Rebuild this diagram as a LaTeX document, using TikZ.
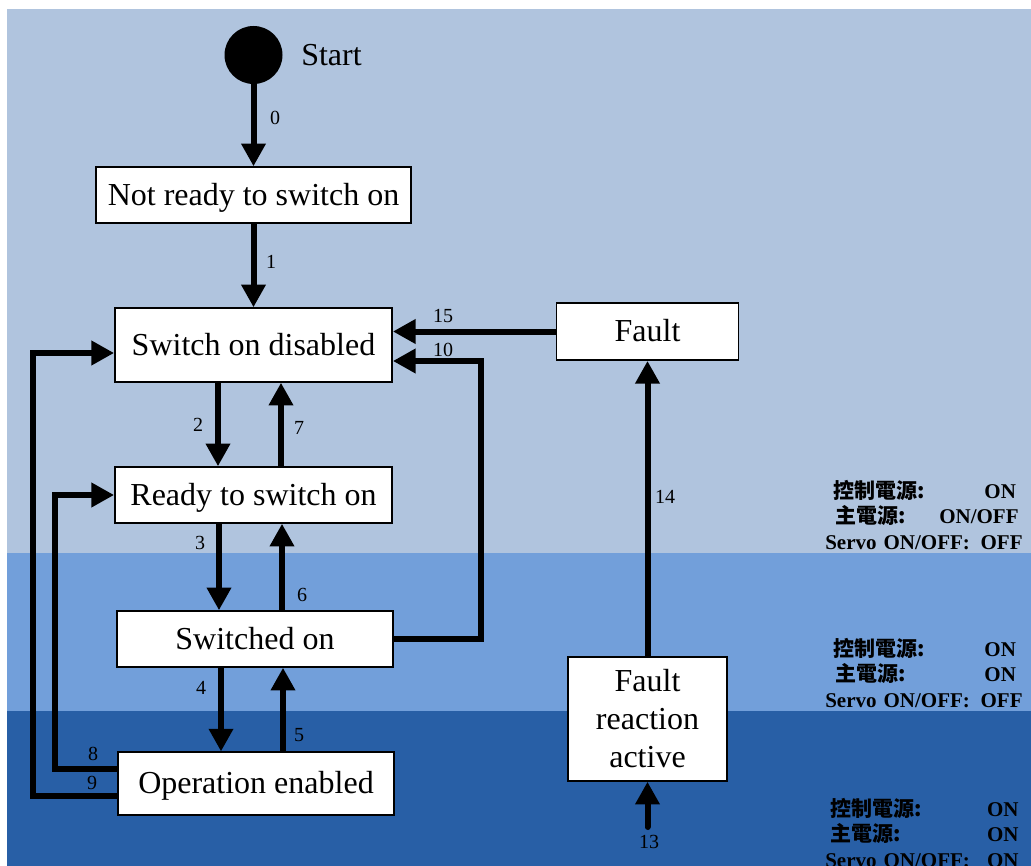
\documentclass[tikz,border=0pt]{standalone}
\usepackage{fontspec}
\setmainfont{Liberation Serif}
\newfontfamily\cjk{Noto Sans CJK TC}
\usetikzlibrary{arrows.meta}
\definecolor{bandA}{RGB}{176,196,222}
\definecolor{bandB}{RGB}{114,159,218}
\definecolor{bandC}{RGB}{40,95,166}
\begin{document}
\begin{tikzpicture}[x=0.75pt, y=-0.75pt,
  st/.style={rectangle, draw=black, line width=1.1pt, fill=white, inner sep=0pt, text depth=0.16em, font=\fontsize{24}{28.5}\selectfont},
  num/.style={inner sep=0pt, font=\fontsize{15}{18}\selectfont},
  info/.style={anchor=west, inner sep=0pt, text width=148pt, align=left, font=\bfseries\fontsize{15.75}{19}\selectfont},
  arr/.style={line width=4.5pt, -{Triangle[length=17pt, width=17.5pt]}}]
\useasboundingbox (0,0) rectangle (1031,866);
\fill[bandA] (7,9) rectangle (1031,553);
\fill[bandB] (7,553) rectangle (1031,711);
\fill[bandC] (7,711) rectangle (1031,866);
% states
\node[circle, fill=black, minimum size=43.5pt, inner sep=0pt] (start) at (253.5,55) {};
\node[anchor=west, inner sep=0pt, font=\fontsize{24}{28.5}\selectfont] (startl) at (301,55) {Start};
\node[st, minimum width=236pt, minimum height=42pt] (notready) at (253.5,195) {Not ready to switch on};
\node[st, minimum width=208pt, minimum height=55.5pt] (disabled) at (253.5,345) {Switch on disabled};
\node[st, minimum width=208pt, minimum height=42pt] (ready) at (253.5,495) {Ready to switch on};
\node[st, minimum width=207pt, minimum height=42pt] (swon) at (255,639) {Switched on};
\node[st, minimum width=207pt, minimum height=47pt] (opena) at (256,783.5) {Operation enabled};
\node[st, minimum width=136.5pt, minimum height=43pt] (fault) at (647.5,331.5) {Fault};
\node[st, minimum width=119pt, minimum height=93pt, align=center] (reaction) at (647.5,719) {Fault\\reaction\\active};
\coordinate (in13) at (647.5,827);
% transitions
\draw[arr] (start) -- (notready);
\draw[arr] (notready) -- (disabled);
\draw[arr] (218,0 |- disabled.south) -- (218,0 |- ready.north);
\draw[arr] (281,0 |- ready.north) -- (281,0 |- disabled.south);
\draw[arr] (219,0 |- ready.south) -- (219,0 |- swon.north);
\draw[arr] (282,0 |- swon.north) -- (282,0 |- ready.south);
\draw[arr] (221,0 |- swon.south) -- (221,0 |- opena.north);
\draw[arr] (283,0 |- opena.north) -- (283,0 |- swon.south);
\draw[arr] (opena.west |- 0,769) -- (55,769) |- (ready.west);
\draw[arr] (opena.west |- 0,796) -- (33,796) |- (disabled.west |- 0,353);
\draw[arr] (swon.east) -- (481,639) |- (disabled.east |- 0,361);
\draw[arr] (fault.west) -- (disabled.east |- fault.west);
\draw[arr] (reaction) -- (fault);
\draw[arr, line cap=round] (in13) -- (reaction);
% numbers
\node[num] (n0) at (275,118) {0};
\node[num] (n1) at (271,262) {1};
\node[num] (n2) at (198,425) {2};
\node[num] (n7) at (299,428) {7};
\node[num] (n3) at (200,543) {3};
\node[num] (n6) at (302,595) {6};
\node[num] (n4) at (201,688) {4};
\node[num] (n5) at (299,735) {5};
\node[num] (n8) at (93,754) {8};
\node[num] (n9) at (92,783) {9};
\node[num] (n15) at (443,316) {15};
\node[num] (n10) at (443,350) {10};
\node[num] (n14) at (665,497) {14};
\node[num] (n13) at (649,842) {13};
% power states
\node[info] (pw1) at (825,515) {\hspace*{6pt}{\cjk 控制電源:}\hfill ON\kern5pt\\
  \hspace*{7.5pt}{\cjk 主電源:}\hfill ON/OFF\kern3pt\\
  Servo ON/OFF:\hfill OFF};
\node[info] (pw2) at (825,673) {\hspace*{6pt}{\cjk 控制電源:}\hfill ON\kern5pt\\
  \hspace*{7.5pt}{\cjk 主電源:}\hfill ON\kern5pt\\
  Servo ON/OFF:\hfill OFF};
\node[info] (pw3) at (825,833) {\hspace*{4pt}{\cjk 控制電源:}\hfill ON\kern3pt\\
  \hspace*{4pt}{\cjk 主電源:}\hfill ON\kern3pt\\
  Servo ON/OFF:\hfill ON\kern3pt};
\end{tikzpicture}
\end{document}
